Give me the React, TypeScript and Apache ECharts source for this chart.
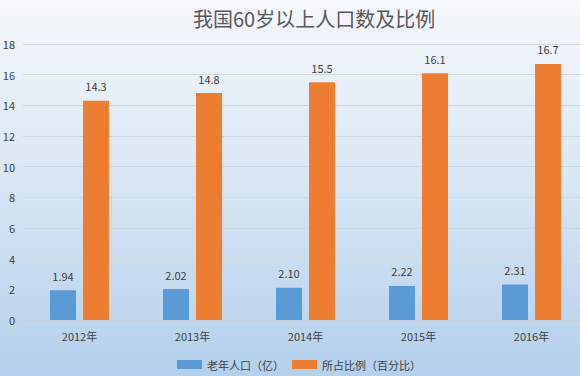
import React, { useEffect, useRef } from "react";
import * as echarts from "echarts";

const categories = ["2012年", "2013年", "2014年", "2015年", "2016年"];
const population = [1.94, 2.02, 2.1, 2.22, 2.31];
const ratio = [14.3, 14.8, 15.5, 16.1, 16.7];
const seriesNames = ["老年人口（亿）", "所占比例（百分比）"];
const titleText = "我国60岁以上人口数及比例";

export default function App() {
  const ref = useRef<HTMLDivElement>(null);
  useEffect(() => {
    const chart = echarts.init(ref.current!, null, { renderer: "svg" });
    const font = "'Microsoft YaHei', 'Noto Sans CJK SC', sans-serif";
    chart.setOption({
      animation: false,
      backgroundColor: new echarts.graphic.LinearGradient(0, 0, 0, 1, [
        { offset: 0, color: "#f5f8fc" },
        { offset: 0.45, color: "#dbe7f4" },
        { offset: 1, color: "#b3d0ec" },
      ]),
      title: {
        text: titleText,
        left: 188,
        top: 3,
        textStyle: { fontSize: 20, fontWeight: "normal", color: "#595959", fontFamily: font },
      },
      legend: {
        top: 354,
        left: 172,
        itemWidth: 25,
        itemHeight: 9,
        itemGap: 8,
        icon: "rect",
        textStyle: { fontSize: 11, color: "#404040", fontFamily: font },
        data: seriesNames,
      },
      grid: { left: 23, width: 565, top: 44, bottom: 56, outerBoundsMode: "none", containLabel: false },
      xAxis: {
        type: "category",
        data: categories,
        axisLine: { lineStyle: { color: "#c5d0db" } },
        axisTick: { show: false },
        axisLabel: { fontSize: 11, color: "#404040", margin: 10, fontFamily: font },
      },
      yAxis: {
        type: "value",
        min: 0,
        max: 18,
        interval: 2,
        axisLine: { show: false },
        axisTick: { show: false },
        axisLabel: { fontSize: 11, color: "#404040", margin: 8, fontFamily: font },
        splitLine: { lineStyle: { color: "#cfd8e2" } },
      },
      series: [
        {
          name: seriesNames[0],
          type: "bar",
          data: population,
          barWidth: 26,
          barGap: "27%",
          itemStyle: { color: "#5b9bd5" },
          label: {
            show: true,
            position: "top",
            distance: 9,
            fontSize: 11,
            color: "#404040",
            fontFamily: font,
            formatter: (p: any) => Number(p.value).toFixed(2),
          },
        },
        {
          name: seriesNames[1],
          type: "bar",
          data: ratio,
          barWidth: 26,
          itemStyle: { color: "#ed7d31" },
          label: {
            show: true,
            position: "top",
            distance: 9,
            fontSize: 11,
            color: "#404040",
            fontFamily: font,
            formatter: (p: any) => Number(p.value).toFixed(1),
          },
        },
      ],
    });
    return () => chart.dispose();
  }, []);
  return <div ref={ref} style={{ position: "fixed", left: 0, top: 0, width: 580, height: 376 }} />;
}
